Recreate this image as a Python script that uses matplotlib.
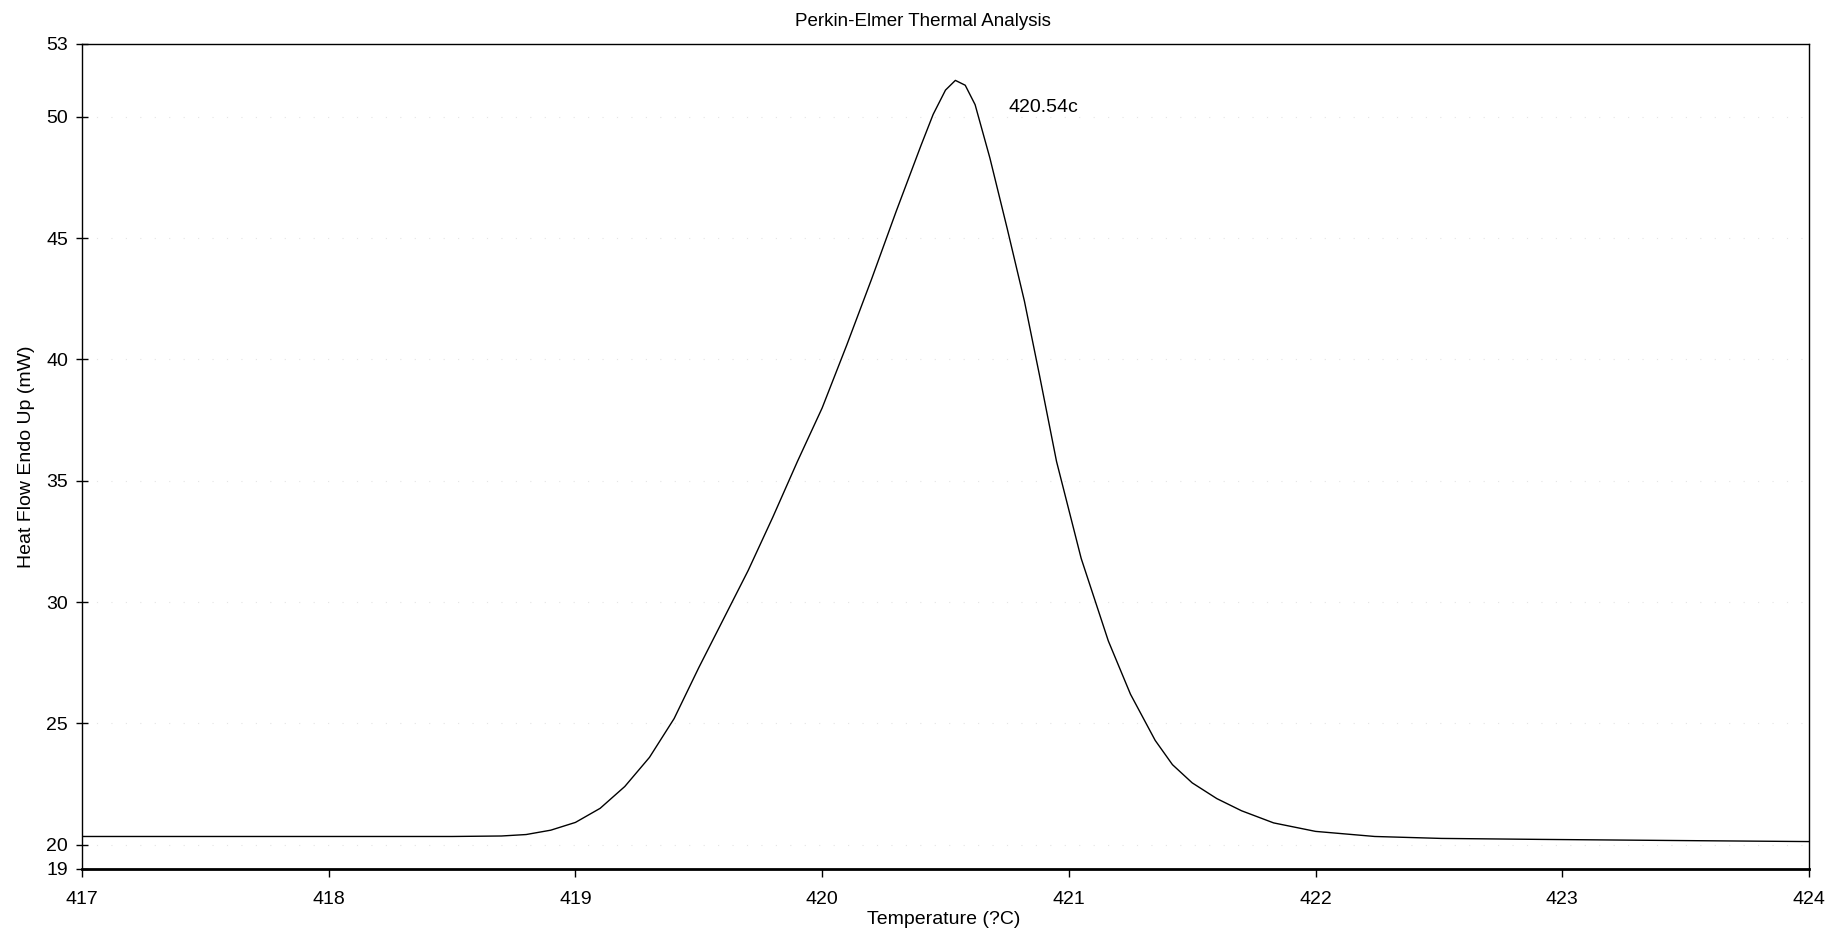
import numpy as np
import matplotlib
matplotlib.use("Agg")
import matplotlib.pyplot as plt

# values
temp = [417.0, 417.5, 418.0, 418.5, 418.7, 418.8, 418.9, 419.0, 419.1, 419.2,
        419.3, 419.4, 419.5, 419.6, 419.7, 419.8, 419.9, 420.0, 420.1, 420.2,
        420.3, 420.4, 420.45, 420.5, 420.54, 420.58, 420.62, 420.68, 420.75,
        420.82, 420.88, 420.95, 421.05, 421.16, 421.25, 421.35, 421.42, 421.5,
        421.6, 421.7, 421.83, 422.0, 422.24, 422.51, 422.91, 423.5, 424.0]
heat_flow = [20.34, 20.34, 20.34, 20.34, 20.36, 20.42, 20.6, 20.92, 21.5, 22.4,
             23.6, 25.2, 27.3, 29.3, 31.3, 33.5, 35.8, 38.0, 40.6, 43.3,
             46.1, 48.8, 50.1, 51.1, 51.5, 51.3, 50.5, 48.3, 45.4,
             42.4, 39.4, 35.8, 31.8, 28.4, 26.2, 24.3, 23.3, 22.55,
             21.9, 21.4, 20.9, 20.55, 20.34, 20.26, 20.22, 20.17, 20.13]

peak_label = '420.54c'
peak_label_pos = (420.755, 50.4)

yticks = [19, 20, 25, 30, 35, 40, 45, 50, 53]
xticks = [417, 418, 419, 420, 421, 422, 423, 424]

plt.rcParams['font.family'] = ['Liberation Sans', 'DejaVu Sans']

fig = plt.figure(figsize=(18.32, 9.42), dpi=100)
ax = fig.add_axes([0.0448, 0.0775, 0.9426, 0.8758])

ax.plot(temp, heat_flow, color='black', linewidth=1.0)
ax.text(peak_label_pos[0], peak_label_pos[1], peak_label, fontsize=14,
        ha='left', va='center')

ax.set_xlim(417, 424)
ax.set_ylim(19, 53)
ax.set_xticks(xticks)
ax.set_yticks(yticks)
ax.tick_params(axis='both', labelsize=14, color='black', width=1)
ax.tick_params(axis='x', direction='out', length=6, pad=10)
ax.tick_params(axis='y', direction='inout', length=8, pad=6)

# faint gridlines, mostly faded on the original scan
for yv in yticks[1:-1]:
    ax.axhline(yv, color='#e4e4e4', linewidth=0.8, linestyle=(0, (1, 12)), zorder=0)

for s in ax.spines.values():
    s.set_color('black')
    s.set_linewidth(1.0)
ax.spines['bottom'].set_linewidth(2.0)

ax.set_ylabel('Heat Flow Endo Up (mW)', fontsize=14, labelpad=8)
fig.text(944 / 1832, 1 - 920 / 942, 'Temperature (?C)', fontsize=14,
         ha='center', va='center')
fig.text(923 / 1832, 1 - 21 / 942, 'Perkin-Elmer Thermal Analysis', fontsize=13.5,
         ha='center', va='center')

fig.savefig('out.png', dpi=100, facecolor='white')
